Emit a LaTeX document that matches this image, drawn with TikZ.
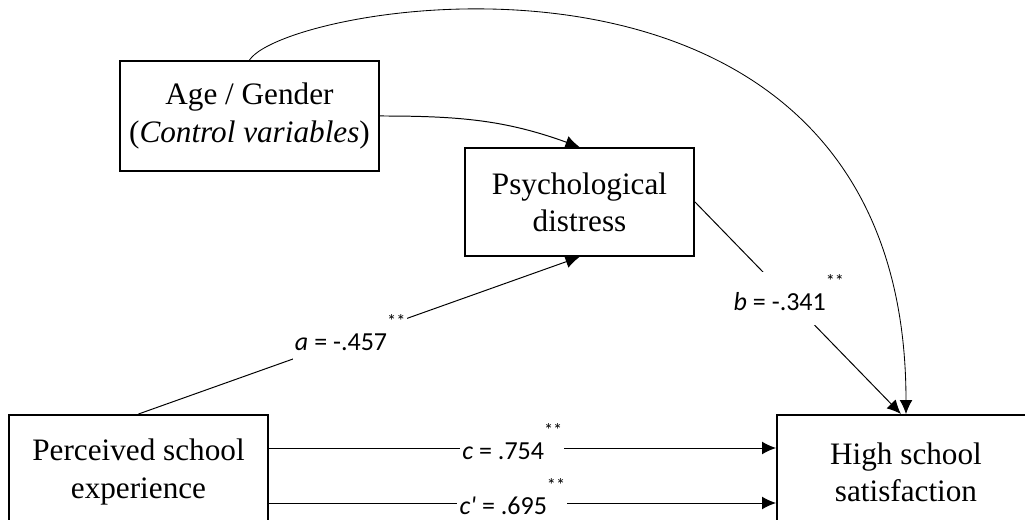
\documentclass[tikz,border=0pt]{standalone}
\usepackage{fontspec}
\setmainfont{Liberation Serif}
\newfontfamily\lblfont{Carlito}
\usetikzlibrary{arrows.meta}
\tikzset{>={Latex[length=.35cm, width=.32cm]}}
\tikzset{varbox/.style={draw, line width=1.4pt, align=center, inner sep=0pt, font=\fontsize{22.2}{26.5}\selectfont},
    lbl/.style={fill=white, inner sep=1.5pt, font=\lblfont\fontsize{18.5}{20}\selectfont},
    path/.style={->, line width=.7pt}}
\newcommand{\stars}{\raisebox{.9em}{\fontsize{13}{13}\selectfont **}\rule[-9pt]{0pt}{9pt}}

\begin{document}
\begin{tikzpicture}
    \useasboundingbox (0, 0) rectangle (25.625, 13);
    \node[varbox, minimum width=6.475cm, minimum height=2.75cm](age) at (6.2375, 10.1){Age / Gender\\(\textit{Control variables})};
    \node[varbox, minimum width=5.725cm, minimum height=2.7cm](psych) at (14.4875, 7.95){Psychological\\distress};
    \node[varbox, minimum width=6.475cm, minimum height=2.85cm](perc) at (3.4625, 1.2){Perceived school\\experience};
    \node[varbox, minimum width=6.45cm, minimum height=2.85cm](hs) at (22.65, 1.2){High school\\satisfaction};
    \draw[path](age.east) to[out=0, in=160] (psych.north);
    \draw[path](perc.north) -- node[lbl, pos=.48]{\textit{a} = -.457\stars} (psych.south);
    \draw[path](psych.east) -- node[lbl, pos=.456]{\textit{b} = -.341\stars} (hs.95);
    \draw[path]([yshift=.6cm]perc.east) -- node[lbl, pos=.48]{\textit{c} = .754\stars} ([yshift=.6cm]hs.west);
    \draw[path]([yshift=-.775cm]perc.east) -- node[lbl, pos=.48]{\textit{c\textquotesingle} = .695\stars} ([yshift=-.775cm]hs.west);
    \draw[path, line width=.6pt](age.north) .. controls +(1, 1.5) and +(0, 12.9) .. (hs.north);
\end{tikzpicture}
\end{document}
